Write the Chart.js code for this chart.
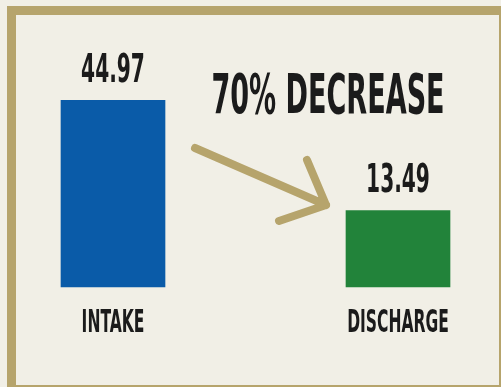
<!DOCTYPE html>
<html>
<head>
<meta charset="utf-8">
<script src="https://cdn.jsdelivr.net/npm/chart.js@4/dist/chart.umd.min.js"></script>
<style>
  html, body { margin: 0; padding: 0; background: #f1efe6; overflow: hidden; }
  #frame { position: absolute; left: 7px; top: 6px; width: 483px; height: 370px;
           border: 9px solid #b6a46c; }
  #wrap { position: absolute; left: 0; top: 0; width: 501px; height: 387px; }
</style>
</head>
<body>
<div id="frame"></div>
<div id="wrap"><canvas id="bars" width="501" height="387"></canvas></div>
<script>
var categories = ["INTAKE", "DISCHARGE"];
var values = [44.97, 13.49];
var barColors = ["#0a5ba8", "#22833a"];
var headline = "70% DECREASE";
var axisMin = -8.4;   // bars in the picture don't start at zero
var axisMax = 51.1;

// condensed text: Chart.js can't squeeze glyphs, so we scale the context
function squeezed(ctx, text, x, y, size, sx){
    ctx.save();
    ctx.font = "bold " + size + "px 'Liberation Sans Narrow', 'DejaVu Sans Condensed', sans-serif";
    ctx.fillStyle = "#1b1b1b";
    ctx.textAlign = "center";
    ctx.textBaseline = "middle";
    ctx.translate(x, y);
    ctx.scale(sx, 1);
    ctx.fillText(text, 0, 0);
    ctx.restore();
}

var textPlugin = {
    id: 'texts',
    afterDatasetsDraw: function(chart){
        var ctx = chart.ctx;
        var xs = chart.scales.x, ys = chart.scales.y;
        var base = ys.getPixelForValue(axisMin);
        for (var i = 0; i < categories.length; i++){
            var cx = xs.getPixelForValue(i);
            squeezed(ctx, values[i].toFixed(2), cx, ys.getPixelForValue(values[i]) - 29, 39, 0.575);
            squeezed(ctx, categories[i], cx, base + 37, 32, 0.54);
        }
        squeezed(ctx, headline, 328, 98, 56, 0.537);

        // arrow
        ctx.save();
        ctx.strokeStyle = "#b6a46c";
        ctx.lineWidth = 8;
        ctx.lineCap = "round";
        ctx.lineJoin = "round";
        ctx.beginPath();
        ctx.moveTo(195, 148);
        ctx.lineTo(326, 205);
        ctx.moveTo(307, 160);
        ctx.lineTo(326, 205);
        ctx.lineTo(279, 221);
        ctx.stroke();
        ctx.restore();
    }
};

var ctx = document.getElementById("bars").getContext('2d');
var myChart = new Chart(ctx, {
    type: 'bar',
    data: {
        labels: categories,
        datasets: [{
            data: values,
            backgroundColor: barColors,
            borderWidth: 0,
            barThickness: 104,
            base: axisMin,
            clip: false
        }]
    },
    options: {
        responsive: false,
        animation: false,
        layout: { padding: { left: 113, right: 103, top: 79, bottom: 100 } },
        plugins: { legend: { display: false }, tooltip: { enabled: false } },
        scales: {
            x: { display: false, offset: false },
            y: { display: false, min: axisMin, max: axisMax }
        }
    },
    plugins: [textPlugin]
});
</script>
</body>
</html>
